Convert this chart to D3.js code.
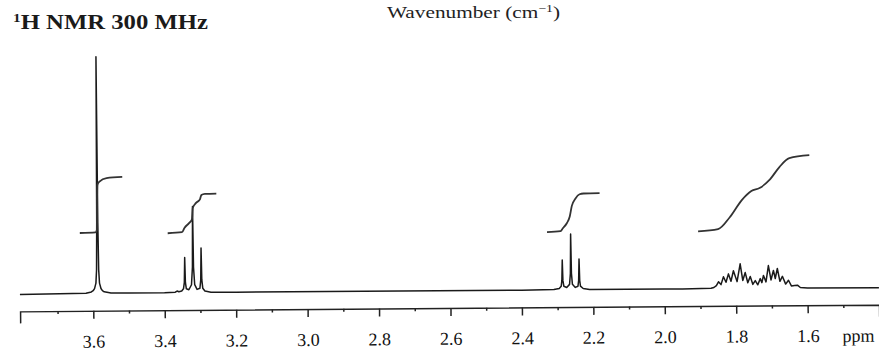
<!DOCTYPE html>
<html>
<head>
<meta charset="utf-8">
<script src="https://cdn.jsdelivr.net/npm/d3@7"></script>
<style>
  body { margin: 0; background: #fff; }
  svg { display: block; }
</style>
</head>
<body>
<div id="graph"></div>
<script>
// axis span and ticks, in ppm
let axisStart = 3.805,
  axisEnd = 1.4;
let majorTicks = [3.6, 3.4, 3.2, 3.0, 2.8, 2.6, 2.4, 2.2, 2.0, 1.8, 1.6];
let minorTicks = [3.7, 3.5, 3.3, 3.1, 2.9, 2.7, 2.5, 2.3, 2.1, 1.9, 1.7, 1.5];

// spectrum trace, [ppm, intensity] (tallest line = 100)
let singletTrace = [
  [3.805, 0], [3.62, 0.3], [3.605, 0.8], [3.6, 1.3], [3.596, 2.2], [3.592, 4.5],
  [3.59, 10], [3.5885, 30], [3.587, 100], [3.5855, 30], [3.584, 10], [3.582, 4.5],
  [3.578, 2.2], [3.574, 1.3], [3.569, 0.8], [3.55, 0.3], [3.5, 0.2],
];
let tripletATrace = [
  [3.4, 0.2], [3.37, 0.4], [3.365, 0.9], [3.36, 0.6], [3.352, 0.9], [3.347, 1.8],
  [3.3445, 4.5], [3.343, 15], [3.3415, 4.5], [3.339, 1.8], [3.332, 1.4],
  [3.3245, 3.5], [3.3215, 11], [3.32, 36.5], [3.3185, 11], [3.3155, 3.5],
  [3.309, 1.5], [3.301, 2], [3.2985, 5.5], [3.297, 19], [3.2955, 5.5], [3.293, 2],
  [3.287, 0.8], [3.27, 0.3], [3.2, 0.2],
];
let tripletBTrace = [
  [2.4, 0.1], [2.31, 0.3], [2.295, 0.7], [2.2895, 1.6], [2.2875, 4], [2.286, 12.7],
  [2.2845, 4], [2.282, 1.6], [2.274, 1.1], [2.266, 2.4], [2.2635, 7], [2.262, 23.6],
  [2.2605, 7], [2.258, 2.4], [2.25, 1.1], [2.2425, 1.6], [2.2405, 4], [2.239, 13.1],
  [2.2375, 4], [2.2355, 1.6], [2.228, 0.6], [2.21, 0.2], [2.0, 0.1],
];
let multipletTrace = [
  [1.95, 0.1], [1.87, 0.3], [1.862, 0.6], [1.855, 1.4], [1.849, 3.0], [1.842, 1.8],
  [1.835, 5.1], [1.828, 2.8], [1.821, 6.3], [1.814, 3.2], [1.807, 7.6], [1.797, 3.0],
  [1.788, 10.5], [1.781, 3.5], [1.774, 6.8], [1.767, 2.5], [1.76, 5.1], [1.753, 1.8],
  [1.746, 3.4], [1.739, 1.6], [1.732, 4.2], [1.7275, 2.5], [1.723, 5.5], [1.716, 2.8],
  [1.709, 9.7], [1.702, 3.6], [1.695, 7.6], [1.69, 4.2], [1.684, 8.4], [1.677, 3.0],
  [1.67, 5.1], [1.661, 1.8], [1.653, 3.4], [1.645, 1.0], [1.636, 1.2], [1.628, 1.3],
  [1.62, 0.3], [1.6, 0.1], [1.4, 0],
];

// integral curves, [ppm, level] on the same intensity scale
let integralSinglet = [
  [3.636, 25.7], [3.592, 25.9], [3.588, 27], [3.587, 40], [3.5855, 46], [3.58, 47.3],
  [3.56, 48.8], [3.516, 49.2],
];
let integralTripletA = [
  [3.39, 25.3], [3.35, 25.7], [3.343, 27.5], [3.33, 29.5], [3.322, 31], [3.319, 36],
  [3.31, 38], [3.299, 39.5], [3.295, 41.3], [3.285, 41.8], [3.253, 41.9],
];
let integralTripletB = [
  [2.328, 24.5], [2.29, 24.9], [2.284, 26], [2.272, 28.3], [2.264, 31], [2.258, 35.5],
  [2.248, 38.5], [2.236, 40.4], [2.225, 40.7], [2.18, 40.8],
];
let integralMultiplet = [
  [1.905, 24.3], [1.849, 25.2], [1.816, 30.2], [1.782, 37.4], [1.755, 41.2],
  [1.732, 42.4], [1.704, 45.8], [1.676, 51.2], [1.648, 54.9], [1.592, 56.1],
];

function drawSpectrum() {
  let width = 879,
    height = 351;

  let svg = d3
    .select("#graph")
    .append("svg")
    .attr("width", width)
    .attr("height", height)
    .style("font-family", "'Liberation Serif', 'Times New Roman', serif");

  svg.append("rect").attr("width", width).attr("height", height).attr("fill", "#fff");

  // leftover caption from the figure above
  let wave = svg
    .append("text")
    .attr("x", 387)
    .attr("y", 18)
    .attr("font-size", "17px")
    .attr("fill", "#222")
    .attr("textLength", 173)
    .attr("lengthAdjust", "spacingAndGlyphs");
  wave.append("tspan").text("Wavenumber (cm");
  wave.append("tspan").attr("font-size", "11px").attr("dy", -6).text("\u22121");
  wave.append("tspan").attr("dy", 6).text(")");

  // title with superscript 1
  let title = svg
    .append("text")
    .attr("x", 13)
    .attr("y", 29)
    .attr("font-size", "21px")
    .attr("font-weight", "bold")
    .attr("fill", "#1a1a1a")
    .attr("textLength", 195)
    .attr("lengthAdjust", "spacingAndGlyphs");
  title.append("tspan").attr("font-size", "13px").attr("dy", -7).text("1");
  title.append("tspan").attr("dy", 7).text("H NMR 300 MHz");

  // the scan is a little tilted, so the plot group is too
  let plot = svg.append("g").attr("transform", "rotate(-0.45, 450, 300)");

  let x = d3.scaleLinear().domain([axisStart, axisEnd]).range([20, 879]);
  let y = d3.scaleLinear().domain([0, 100]).range([291, 54]);

  let line = d3
    .line()
    .x((d) => x(d[0]))
    .y((d) => y(d[1]));

  // spectrum
  let trace = singletTrace.concat(tripletATrace, tripletBTrace, multipletTrace);
  plot
    .append("path")
    .datum(trace)
    .attr("d", line)
    .attr("fill", "none")
    .attr("stroke", "#1a1a1a")
    .attr("stroke-width", 1.5)
    .attr("stroke-linejoin", "round");

  // integrals
  [integralSinglet, integralTripletA, integralTripletB, integralMultiplet].forEach((d) => {
    plot
      .append("path")
      .datum(d)
      .attr("d", line.curve(d3.curveMonotoneX))
      .attr("fill", "none")
      .attr("stroke", "#333")
      .attr("stroke-width", 1.8);
    line.curve(d3.curveLinear);
  });

  // axis: majors with labels, then minors
  let axisY = 308;
  let xAxis = plot
    .append("g")
    .attr("transform", "translate(0," + axisY + ")")
    .call(
      d3
        .axisBottom(x)
        .tickValues(majorTicks)
        .tickSize(8)
        .tickSizeOuter(12)
        .tickPadding(16)
        .tickFormat(d3.format(".1f"))
    );
  xAxis.selectAll("path, line").attr("stroke", "#222").attr("stroke-width", 1.5);
  xAxis
    .selectAll("text")
    .attr("font-size", "18px")
    .attr("font-family", "'Liberation Serif', 'Times New Roman', serif")
    .attr("fill", "#111");

  let minorAxis = plot
    .append("g")
    .attr("transform", "translate(0," + axisY + ")")
    .call(d3.axisBottom(x).tickValues(minorTicks).tickSize(3).tickFormat(""));
  minorAxis.select(".domain").remove();
  minorAxis.selectAll("line").attr("stroke", "#222").attr("stroke-width", 1.5);

  // unit label
  plot
    .append("text")
    .attr("x", x(1.5) - 1)
    .attr("y", axisY + 37)
    .attr("font-size", "18px")
    .attr("fill", "#111")
    .text("ppm");
}

drawSpectrum();
</script>
</body>
</html>
